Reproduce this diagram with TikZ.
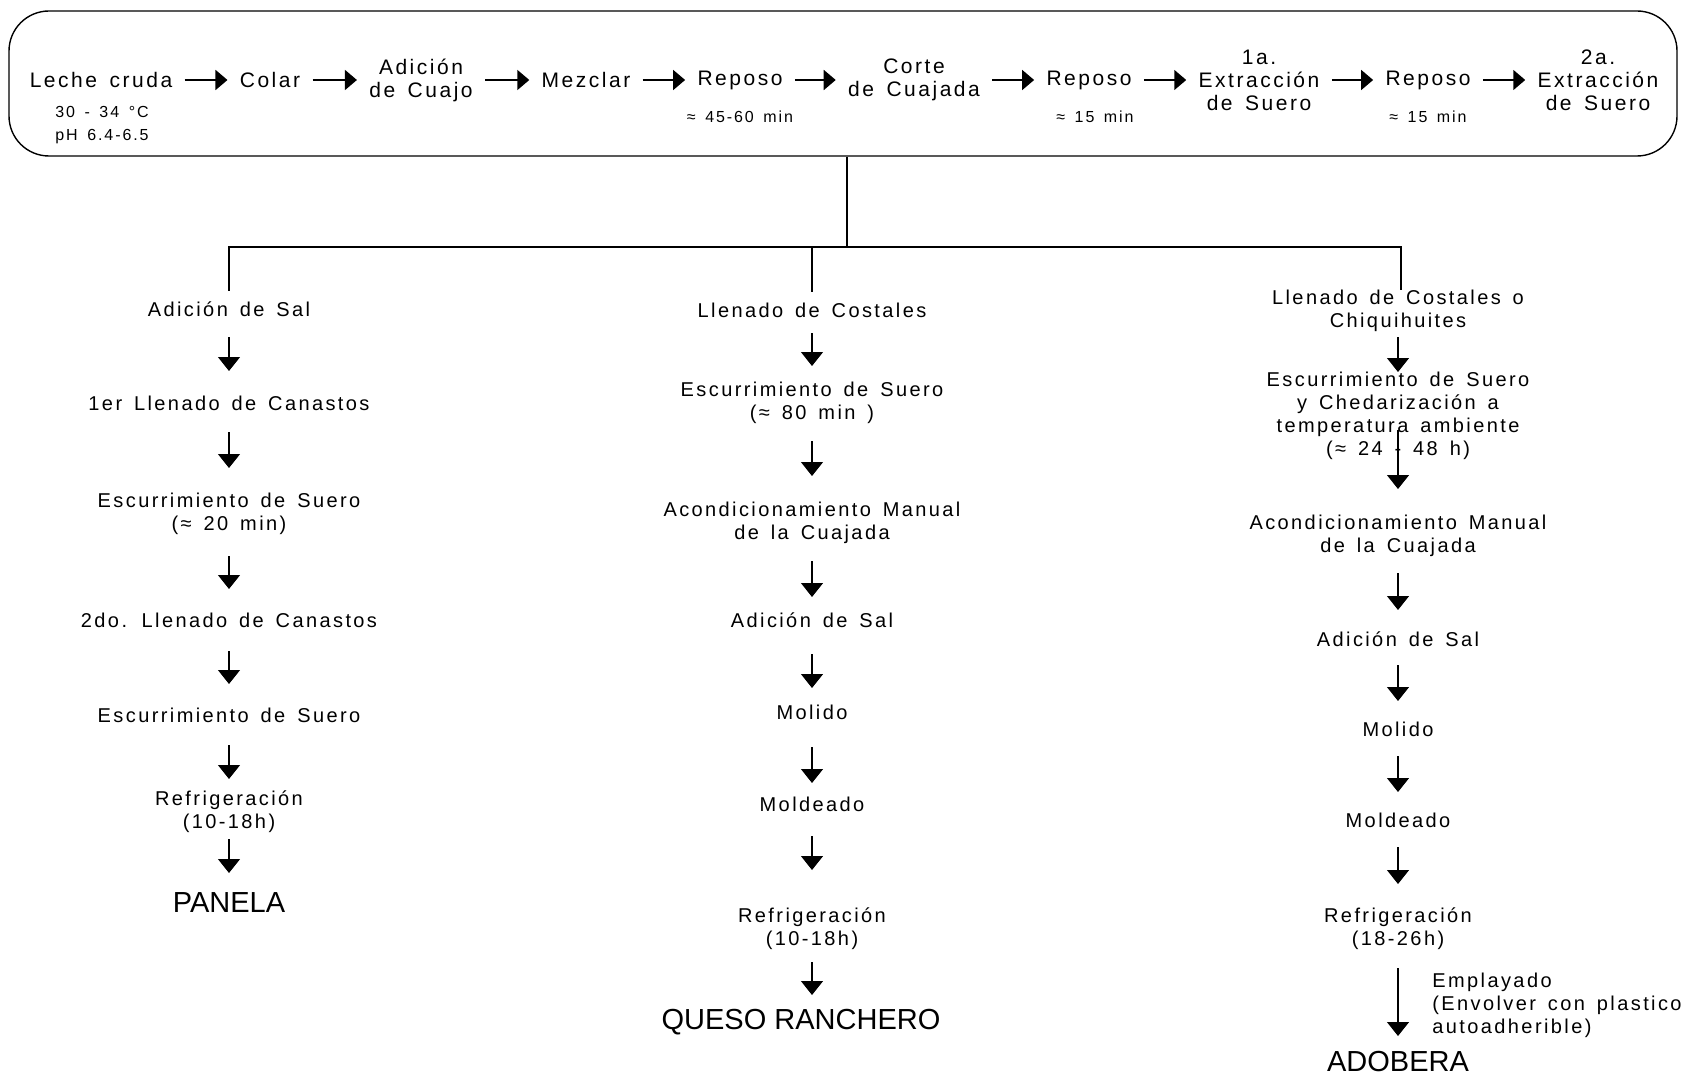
\documentclass[tikz,border=0pt]{standalone}
\usepackage{fontspec}
\setmainfont{Liberation Sans}[LetterSpace=12, WordSpace=1.5]
\newfontfamily\plainsans{Liberation Sans}
\usetikzlibrary{arrows.meta,calc}

\tikzset{
  toptxt/.style={inner sep=0pt, align=center, font=\fontsize{10.5}{11.5}\selectfont},
  subtxt/.style={inner sep=0pt, align=center, font=\fontsize{8}{11.5}\selectfont},
  txt/.style={inner sep=0pt, align=center, font=\fontsize{10}{11.5}\selectfont},
  prod/.style={inner sep=0pt, font=\plainsans\fontsize{14.5}{16}\selectfont},
  harr/.style={line width=0.85pt, -{Triangle[length=6pt,width=10pt]}, shorten <=6pt, shorten >=6pt},
  varr/.style={line width=0.6pt, -{Triangle[length=7pt,width=11pt]}},
  link/.style={line width=0.6pt},
  frame/.style={draw, line width=0.7pt, rounded corners=20pt, inner sep=0pt},
}

% vertical step arrow: from node #1 (offset #3 below its centre) to node #2 (offset #4 above its centre),
% kept on the column of node #1
\newcommand\flowarrow[4]{\draw[varr] ($(#1)+(0,#3)$) -- ($(#1 |- #2)+(0,-#4)$);}

\begin{document}
\begin{tikzpicture}[x=0.5pt, y=-0.5pt]
\useasboundingbox (0,0) rectangle (1686,1075);

% ---- common trunk: curdling of the milk ----
\node[frame, minimum width=834pt, minimum height=72.5pt] (top) at (843,83.5) {};

\node[toptxt] (t1)  at (101,80)  {Leche cruda};
\node[toptxt] (t2)  at (270,80)  {Colar};
\node[toptxt] (t3)  at (421,80)  {Adición\\de Cuajo};
\node[toptxt] (t4)  at (586,80)  {Mezclar};
\node[toptxt] (t5)  at (740,80)  {Reposo};
\node[toptxt] (t6)  at (914,80)  {Corte\\de Cuajada};
\node[toptxt] (t7)  at (1089,80) {Reposo};
\node[toptxt] (t8)  at (1259,80) {1a.\\Extracción\\de Suero};
\node[toptxt] (t9)  at (1428,80) {Reposo};
\node[toptxt] (t10) at (1598,80) {2a.\\Extracción\\de Suero};

\node[subtxt] (s1) at (102,125)  {30 - 34 °C\\pH 6.4-6.5};
\node[subtxt] (s5) at (740,117)  {≈ 45-60 min};
\node[subtxt] (s7) at (1095,117) {≈ 15 min};
\node[subtxt] (s9) at (1428,117) {≈ 15 min};

\foreach \a/\b in {t1/t2,t2/t3,t3/t4,t4/t5,t5/t6,t6/t7,t7/t8,t8/t9,t9/t10}
  \draw[harr] (\a.east) -- (\b.west);

% ---- Panela ----
\node[txt] (n1) at (229,309) {Adición de Sal};
\node[txt] (n2) at (229,403) {1er Llenado de Canastos};
\node[txt] (n3) at (229,514) {Escurrimiento de Suero\\(≈ 20 min)};
\node[txt] (n4) at (229,620) {2do. Llenado de Canastos};
\node[txt] (n5) at (229,715) {Escurrimiento de Suero};
\node[txt] (n6) at (229,812) {Refrigeración\\(10-18h)};
\node[prod] (panela) at (229,903) {PANELA};

\flowarrow{n1}{n2}{28}{32}
\flowarrow{n2}{n3}{29}{46}
\flowarrow{n3}{n4}{42}{31}
\flowarrow{n4}{n5}{31}{31}
\flowarrow{n5}{n6}{30}{33}
\flowarrow{n6}{panela}{27}{30}

% ---- Queso ranchero ----
\node[txt] (m1) at (812,310) {Llenado de Costales};
\node[txt] (m2) at (812,403) {Escurrimiento de Suero\\(≈ 80 min )};
\node[txt] (m3) at (812,523) {Acondicionamiento Manual\\de la Cuajada};
\node[txt] (m4) at (812,620) {Adición de Sal};
\node[txt] (m5) at (812,712) {Molido};
\node[txt] (m6) at (812,804) {Moldeado};
\node[txt] (m7) at (812,929) {Refrigeración\\(10-18h)};
\node[prod] (queso) at (801,1022) {QUESO RANCHERO};

\flowarrow{m1}{m2}{23}{37}
\flowarrow{m2}{m3}{38}{47}
\flowarrow{m3}{m4}{38}{23}
\flowarrow{m4}{m5}{34}{24}
\flowarrow{m5}{m6}{35}{21}
\flowarrow{m6}{m7}{32}{59}
\flowarrow{m7}{queso}{33}{27}

% ---- Adobera ----
\node[txt] (r1) at (1398,311) {Llenado de Costales o\\Chiquihuites};
\node[txt] (r2) at (1398,416) {Escurrimiento de Suero\\y Chedarización a\\temperatura ambiente\\(≈ 24 - 48 h)};
\node[txt] (r3) at (1398,536) {Acondicionamiento Manual\\de la Cuajada};
\node[txt] (r4) at (1398,639) {Adición de Sal};
\node[txt] (r5) at (1398,729) {Molido};
\node[txt] (r6) at (1398,820) {Moldeado};
\node[txt] (r7) at (1398,929) {Refrigeración\\(18-26h)};
\node[prod] (adobera) at (1398,1062) {ADOBERA};
\node[txt, align=left, anchor=west] (wrap) at (1432,1005) {Emplayado\\(Envolver con plastico\\autoadherible)};

\flowarrow{r1}{r2}{26}{44}
\flowarrow{r2}{r3}{14}{47}
\flowarrow{r3}{r4}{37}{29}
\flowarrow{r4}{r5}{26}{28}
\flowarrow{r5}{r6}{27}{28}
\flowarrow{r6}{r7}{27}{45}
\flowarrow{r7}{adobera}{39}{26}

% ---- split into the three cheeses ----
\coordinate (hub) at (847,247);
\draw[link] (top.south -| hub) -- (hub);
\draw[link, shorten >=5pt] (hub) -| (n1);
\draw[link, shorten >=5pt] (hub) -| (m1);
\draw[link] (hub) -| ([xshift=1.5pt]r1.north);
\end{tikzpicture}
\end{document}
